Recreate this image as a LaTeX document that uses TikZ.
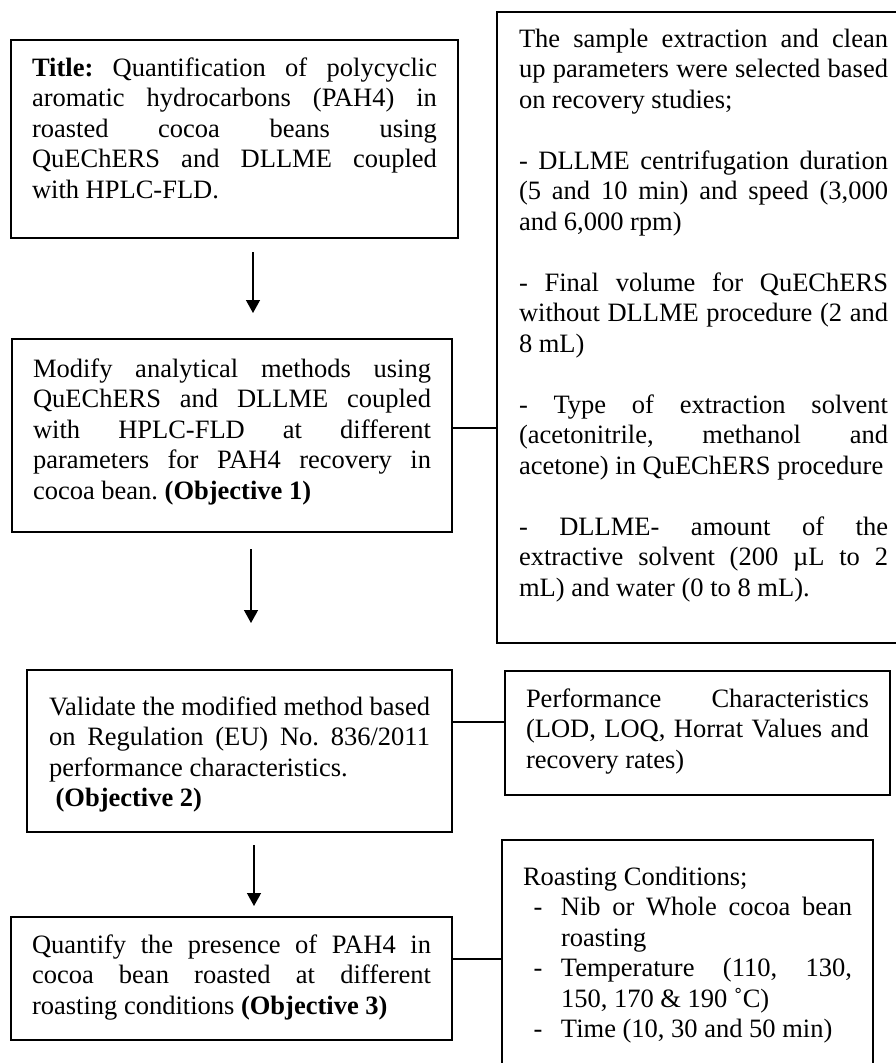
\documentclass[tikz,border=0pt]{standalone}
\usepackage{fontspec}
\setmainfont{Liberation Serif}
\usepackage{tikz}
\usetikzlibrary{arrows.meta}

\hyphenpenalty=10000
\exhyphenpenalty=10000
\tolerance=10000
\hbadness=10000
\frenchspacing

\newcommand{\bodyfont}{\fontsize{26.5}{30.5}\selectfont}
\newcommand{\dashitem}[1]{{\leftskip=38pt\noindent\llap{\makebox[27.5pt][l]{-}}#1\par}}

\tikzset{
  box/.style={draw, line width=2.2pt, anchor=north west, align=justify,
    inner ysep=0pt, outer sep=0pt, font=\bodyfont},
  flow/.style={line width=1.4pt, -{Triangle[width=14pt,length=13pt]}},
  link/.style={line width=1.9pt}
}

\begin{document}
\begin{tikzpicture}[x=1pt, y=-1pt]
    \fill[white] (0,0) rectangle (896,1063);
    \useasboundingbox (0,0) rectangle (896,1063);

    % main column
    \node[box, text width=405pt, inner xsep=21pt, text height=36pt, text depth=162pt] (title) at (11,40)
        {\textbf{Title:} Quantification of polycyclic\linebreak aromatic hydrocarbons (PAH4) in\linebreak
         roasted cocoa beans using\linebreak QuEChERS and DLLME coupled\linebreak with HPLC-FLD.};
    \node[box, text width=398pt, inner xsep=21pt, text height=38pt, text depth=155pt] (modify) at (12,339)
        {Modify analytical methods using\linebreak QuEChERS and DLLME coupled\linebreak with HPLC-FLD at different\linebreak
         parameters for PAH4 recovery in\linebreak cocoa bean. \textbf{(Objective 1)}};
    \node[box, text width=381pt, inner xsep=22pt, text height=45pt, text depth=117pt] (validate) at (27,670)
        {Validate the modified method based\linebreak on Regulation (EU) No. 836/2011\linebreak
         performance characteristics.\par\hspace*{0.25em}\textbf{(Objective 2)}};
    \node[box, text width=399pt, inner xsep=21pt, text height=36pt, text depth=87pt] (quantify) at (11,917)
        {Quantify the presence of PAH4 in\linebreak cocoa bean roasted at different\linebreak
         roasting conditions \textbf{(Objective 3)}};

    % side boxes
    \node[box, text width=369pt, inner xsep=22pt, text height=35pt, text depth=596pt] (params) at (497,12)
        {\setlength{\parskip}{30.5pt}%
         The sample extraction and clean\linebreak up parameters were selected based\linebreak on recovery studies;\par
         - DLLME centrifugation duration\linebreak (5 and 10 min) and speed (3,000\linebreak and 6,000 rpm)\par
         - Final volume for QuEChERS\linebreak without DLLME procedure (2 and\linebreak 8 mL)\par
         - Type of extraction solvent\linebreak (acetonitrile, methanol and\linebreak acetone) in QuEChERS procedure\par
         - DLLME- amount of the\linebreak extractive solvent (200 µL to 2\linebreak mL) and water (0 to 8 mL).};
    \node[box, text width=343pt, inner xsep=21pt, text height=36pt, text depth=88pt] (perf) at (505,671)
        {Performance Characteristics\linebreak (LOD, LOQ, Horrat Values and\linebreak recovery rates)};
    \node[box, text width=329pt, inner xsep=21pt, text height=45pt, text depth=190pt] (roast) at (502,840)
        {Roasting Conditions;\par
         \dashitem{Nib or Whole cocoa bean\linebreak roasting}
         \dashitem{Temperature (110, 130,\linebreak 150, 170 \& 190 ˚C)}
         \dashitem{Time (10, 30 and 50 min)}};

    % arrows down the column
    \draw[flow] ([xshift=18.5pt,yshift=-14pt]title.south) -- ([xshift=21pt,yshift=26pt]modify.north);
    \draw[flow] ([xshift=19pt,yshift=-17pt]modify.south) -- ([xshift=11.5pt,yshift=47pt]validate.north);
    \draw[flow] ([xshift=14.5pt,yshift=-13pt]validate.south) -- ([xshift=22.5pt,yshift=11pt]quantify.north);

    % side links
    \coordinate (m1) at ([yshift=7.5pt]modify.east);
    \coordinate (v1) at ([yshift=11pt]perf.west);
    \coordinate (q1) at ([yshift=19.5pt]quantify.east);
    \draw[link] (m1) -- (m1 -| params.west);
    \draw[link] (validate.east |- v1) -- (v1);
    \draw[link] (q1) -- (q1 -| roast.west);
\end{tikzpicture}
\end{document}
